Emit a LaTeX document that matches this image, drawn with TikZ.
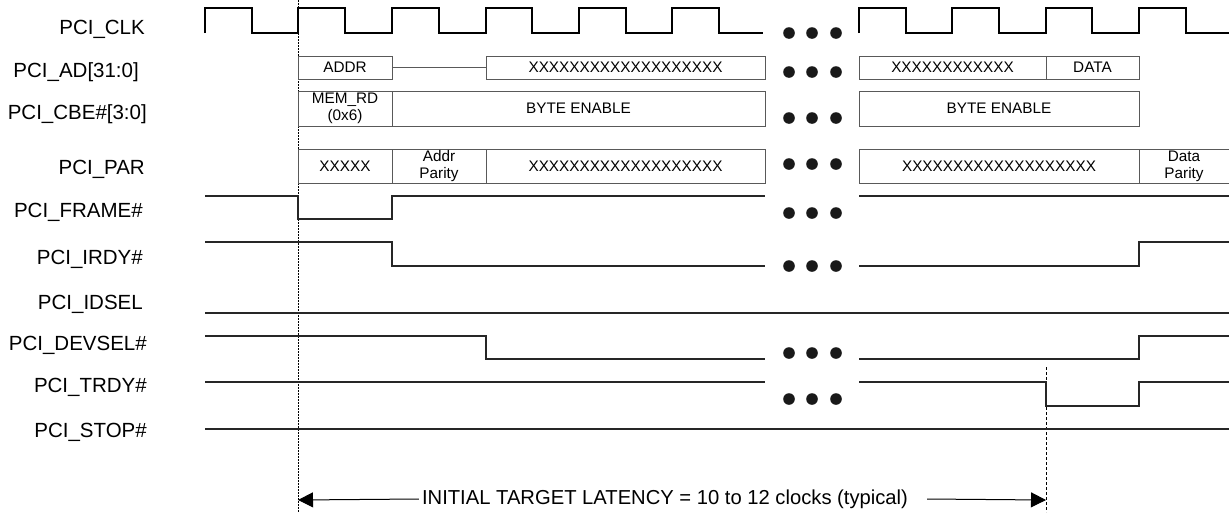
\documentclass[tikz,border=0pt]{standalone}
\usepackage{fontspec}
\setmainfont{Liberation Sans}
\usetikzlibrary{arrows.meta}
\begin{document}
\begin{tikzpicture}[x=1pt,y=-1pt,
  siglabel/.style={anchor=base east,inner sep=0pt,font=\fontsize{20.5}{24}\selectfont},
  clk/.style={line width=1.5pt,black},
  sig/.style={line width=1.1pt,black!85},
  bus/.style={draw=black!65,line width=1pt,inner sep=0pt,font=\fontsize{15.3}{17}\selectfont,align=center},
  busline/.style={draw=black!65,line width=1pt},
  ddot/.style={fill=black!90,draw=none},
  marker/.style={line width=0.8pt,black,dash pattern=on 1.5pt off 1.5pt},
  markerb/.style={line width=0.8pt,black,dash pattern=on 3pt off 2pt},
  latarr/.style={line width=1pt,black,-{Triangle[length=15pt,width=15pt]}}]
\useasboundingbox (0,0) rectangle (1229,512);
% signal labels
\node[siglabel] (lclk)    at (145,34.3)  {PCI\_CLK};
\node[siglabel] (lad)     at (139,77.5)  {PCI\_AD[31:0]};
\node[siglabel] (lcbe)    at (147,119.5) {PCI\_CBE\#[3:0]};
\node[siglabel] (lpar)    at (145,174.3) {PCI\_PAR};
\node[siglabel] (lframe)  at (143,217.3) {PCI\_FRAME\#};
\node[siglabel] (lirdy)   at (143,264.3) {PCI\_IRDY\#};
\node[siglabel] (lidsel)  at (143,309.3) {PCI\_IDSEL};
\node[siglabel] (ldevsel) at (147,350.3) {PCI\_DEVSEL\#};
\node[siglabel] (ltrdy)   at (147,392.3) {PCI\_TRDY\#};
\node[siglabel] (lstop)   at (147,437.3) {PCI\_STOP\#};
% reference markers
\draw[marker] (298,0) -- (298,512);
\draw[markerb] (1046,367) -- (1046,512);
% clock
\draw[clk] (205,33)--(205,8)--(252,8)--(252,33)--(298,33)--(298,8)--(345,8)--(345,33)--(392,33)--(392,8)--(439,8)--(439,33)--(486,33)--(486,8)--(532,8)--(532,33)--(579,33)--(579,8)--(626,8)--(626,33)--(672,33)--(672,8)--(719,8)--(719,33)--(763,33);
\draw[clk] (859,33)--(859,8)--(906,8)--(906,33)--(952,33)--(952,8)--(999,8)--(999,33)--(1046,33)--(1046,8)--(1092,8)--(1092,33)--(1139,33)--(1139,8)--(1186,8)--(1186,33)--(1229,33);
% AD bus
\node[bus,minimum width=94pt,minimum height=23pt] (addr) at (345,67.5) {ADDR};
\node[bus,minimum width=279pt,minimum height=23pt] (adx1) at (625.5,67.5) {XXXXXXXXXXXXXXXXXXX};
\draw[busline] (addr.east) -- (adx1.west);
\node[bus,minimum width=187pt,minimum height=23pt] (adx2) at (952.5,67.5) {XXXXXXXXXXXX};
\node[bus,minimum width=93pt,minimum height=23pt] (data) at (1092.5,67.5) {DATA};
% CBE bus
\node[bus,minimum width=94pt,minimum height=35pt] (memrd) at (345,108.5) {MEM\_RD\\(0x6)};
\node[bus,minimum width=373pt,minimum height=35pt] (be1) at (578.5,108.5) {BYTE ENABLE};
\node[bus,minimum width=280pt,minimum height=35pt] (be2) at (999,108.5) {BYTE ENABLE};
% PAR
\node[bus,minimum width=94pt,minimum height=34pt] (parx) at (345,166) {XXXXX};
\node[bus,minimum width=94pt,minimum height=34pt] (apar) at (439,166) {Addr\\Parity};
\node[bus,minimum width=279pt,minimum height=34pt] (parx1) at (625.5,166) {XXXXXXXXXXXXXXXXXXX};
\node[bus,minimum width=280pt,minimum height=34pt] (parx2) at (999,166) {XXXXXXXXXXXXXXXXXXX};
\draw[busline] (1229,149) -- (1139,149) -- (1139,183) -- (1229,183);
\node[bus,draw=none] (dpar) at (1184,166) {Data\\Parity};
% control signals
\draw[sig] (205,196)--(298,196)--(298,219)--(392,219)--(392,196)--(765,196);
\draw[sig] (859,196)--(1229,196);
\draw[sig] (205,242)--(392,242)--(392,266)--(765,266);
\draw[sig] (859,266)--(1139,266)--(1139,242)--(1229,242);
\draw[sig] (205,313)--(1229,313);
\draw[sig] (205,336)--(486,336)--(486,359)--(765,359);
\draw[sig] (859,359)--(1139,359)--(1139,336)--(1229,336);
\draw[sig] (205,382)--(765,382);
\draw[sig] (859,382)--(1046,382)--(1046,406)--(1139,406)--(1139,382)--(1229,382);
\draw[sig] (205,429)--(1229,429);
% ellipsis dots
\foreach \y in {33,72,118,164,213,266,353,399}{
  \foreach \x in {789,812,836}{
    \fill[ddot] (\x,\y) circle (5.8pt);
  }
}
% latency arrow
\coordinate (latL) at (298,500);
\coordinate (latR) at (1046,500);
\node[inner sep=0pt,font=\fontsize{20.2}{24}\selectfont] (lat) at (665,499) {INITIAL TARGET LATENCY = 10 to 12 clocks (typical)};
\draw[latarr] ([xshift=-3pt]lat.west) -- (latL);
\draw[latarr] ([xshift=19pt]lat.east) -- (latR);
\end{tikzpicture}
\end{document}
